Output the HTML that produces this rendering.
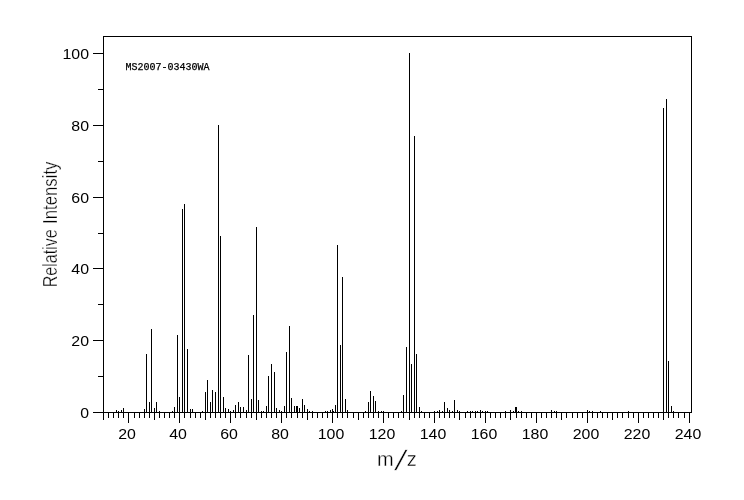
<!DOCTYPE html>
<html><head><meta charset="utf-8"><title>Mass spectrum MS2007-03430WA</title>
<style>
html,body{margin:0;padding:0;background:#fff;}
svg{display:block;}
text{font-family:"Liberation Sans",Arial,sans-serif;fill:#000;}
text.thin{stroke:#fff;stroke-width:0.35px;}
text.t14{stroke:none;}
text.mono{font-family:"Liberation Mono","DejaVu Sans Mono",monospace;stroke:#000;stroke-width:0.25px;}
</style></head>
<body>
<svg width="744" height="500" viewBox="0 0 744 500">
<rect x="0" y="0" width="744" height="500" fill="#fff"/>
<g fill="#000" shape-rendering="crispEdges">
<rect x="103" y="36" width="589" height="1"/>
<rect x="103" y="36" width="1" height="377"/>
<rect x="691" y="36" width="1" height="377"/>
<rect x="93" y="412" width="599" height="1"/>
<rect x="93" y="412" width="10" height="1"/>
<rect x="98" y="376" width="5" height="1"/>
<rect x="93" y="340" width="10" height="1"/>
<rect x="98" y="304" width="5" height="1"/>
<rect x="93" y="268" width="10" height="1"/>
<rect x="98" y="233" width="5" height="1"/>
<rect x="93" y="197" width="10" height="1"/>
<rect x="98" y="161" width="5" height="1"/>
<rect x="93" y="125" width="10" height="1"/>
<rect x="98" y="89" width="5" height="1"/>
<rect x="93" y="53" width="10" height="1"/>
<rect x="103" y="413" width="1" height="7"/>
<rect x="108" y="413" width="1" height="5"/>
<rect x="113" y="413" width="1" height="5"/>
<rect x="118" y="413" width="1" height="5"/>
<rect x="123" y="413" width="1" height="5"/>
<rect x="128" y="413" width="1" height="10"/>
<rect x="134" y="413" width="1" height="5"/>
<rect x="139" y="413" width="1" height="5"/>
<rect x="144" y="413" width="1" height="5"/>
<rect x="149" y="413" width="1" height="5"/>
<rect x="154" y="413" width="1" height="7"/>
<rect x="159" y="413" width="1" height="5"/>
<rect x="164" y="413" width="1" height="5"/>
<rect x="169" y="413" width="1" height="5"/>
<rect x="174" y="413" width="1" height="5"/>
<rect x="179" y="413" width="1" height="10"/>
<rect x="184" y="413" width="1" height="5"/>
<rect x="190" y="413" width="1" height="5"/>
<rect x="195" y="413" width="1" height="5"/>
<rect x="200" y="413" width="1" height="5"/>
<rect x="205" y="413" width="1" height="7"/>
<rect x="210" y="413" width="1" height="5"/>
<rect x="215" y="413" width="1" height="5"/>
<rect x="220" y="413" width="1" height="5"/>
<rect x="225" y="413" width="1" height="5"/>
<rect x="230" y="413" width="1" height="10"/>
<rect x="235" y="413" width="1" height="5"/>
<rect x="240" y="413" width="1" height="5"/>
<rect x="246" y="413" width="1" height="5"/>
<rect x="251" y="413" width="1" height="5"/>
<rect x="256" y="413" width="1" height="7"/>
<rect x="261" y="413" width="1" height="5"/>
<rect x="266" y="413" width="1" height="5"/>
<rect x="271" y="413" width="1" height="5"/>
<rect x="276" y="413" width="1" height="5"/>
<rect x="281" y="413" width="1" height="10"/>
<rect x="286" y="413" width="1" height="5"/>
<rect x="291" y="413" width="1" height="5"/>
<rect x="297" y="413" width="1" height="5"/>
<rect x="302" y="413" width="1" height="5"/>
<rect x="307" y="413" width="1" height="7"/>
<rect x="312" y="413" width="1" height="5"/>
<rect x="317" y="413" width="1" height="5"/>
<rect x="322" y="413" width="1" height="5"/>
<rect x="327" y="413" width="1" height="5"/>
<rect x="332" y="413" width="1" height="10"/>
<rect x="337" y="413" width="1" height="5"/>
<rect x="342" y="413" width="1" height="5"/>
<rect x="347" y="413" width="1" height="5"/>
<rect x="353" y="413" width="1" height="5"/>
<rect x="358" y="413" width="1" height="7"/>
<rect x="363" y="413" width="1" height="5"/>
<rect x="368" y="413" width="1" height="5"/>
<rect x="373" y="413" width="1" height="5"/>
<rect x="378" y="413" width="1" height="5"/>
<rect x="383" y="413" width="1" height="10"/>
<rect x="388" y="413" width="1" height="5"/>
<rect x="393" y="413" width="1" height="5"/>
<rect x="398" y="413" width="1" height="5"/>
<rect x="403" y="413" width="1" height="5"/>
<rect x="409" y="413" width="1" height="7"/>
<rect x="414" y="413" width="1" height="5"/>
<rect x="419" y="413" width="1" height="5"/>
<rect x="424" y="413" width="1" height="5"/>
<rect x="429" y="413" width="1" height="5"/>
<rect x="434" y="413" width="1" height="10"/>
<rect x="439" y="413" width="1" height="5"/>
<rect x="444" y="413" width="1" height="5"/>
<rect x="449" y="413" width="1" height="5"/>
<rect x="454" y="413" width="1" height="5"/>
<rect x="459" y="413" width="1" height="7"/>
<rect x="465" y="413" width="1" height="5"/>
<rect x="470" y="413" width="1" height="5"/>
<rect x="475" y="413" width="1" height="5"/>
<rect x="480" y="413" width="1" height="5"/>
<rect x="485" y="413" width="1" height="10"/>
<rect x="490" y="413" width="1" height="5"/>
<rect x="495" y="413" width="1" height="5"/>
<rect x="500" y="413" width="1" height="5"/>
<rect x="505" y="413" width="1" height="5"/>
<rect x="510" y="413" width="1" height="7"/>
<rect x="516" y="413" width="1" height="5"/>
<rect x="521" y="413" width="1" height="5"/>
<rect x="526" y="413" width="1" height="5"/>
<rect x="531" y="413" width="1" height="5"/>
<rect x="536" y="413" width="1" height="10"/>
<rect x="541" y="413" width="1" height="5"/>
<rect x="546" y="413" width="1" height="5"/>
<rect x="551" y="413" width="1" height="5"/>
<rect x="556" y="413" width="1" height="5"/>
<rect x="561" y="413" width="1" height="7"/>
<rect x="566" y="413" width="1" height="5"/>
<rect x="572" y="413" width="1" height="5"/>
<rect x="577" y="413" width="1" height="5"/>
<rect x="582" y="413" width="1" height="5"/>
<rect x="587" y="413" width="1" height="10"/>
<rect x="592" y="413" width="1" height="5"/>
<rect x="597" y="413" width="1" height="5"/>
<rect x="602" y="413" width="1" height="5"/>
<rect x="607" y="413" width="1" height="5"/>
<rect x="612" y="413" width="1" height="7"/>
<rect x="617" y="413" width="1" height="5"/>
<rect x="622" y="413" width="1" height="5"/>
<rect x="628" y="413" width="1" height="5"/>
<rect x="633" y="413" width="1" height="5"/>
<rect x="638" y="413" width="1" height="10"/>
<rect x="643" y="413" width="1" height="5"/>
<rect x="648" y="413" width="1" height="5"/>
<rect x="653" y="413" width="1" height="5"/>
<rect x="658" y="413" width="1" height="5"/>
<rect x="663" y="413" width="1" height="7"/>
<rect x="668" y="413" width="1" height="5"/>
<rect x="673" y="413" width="1" height="5"/>
<rect x="678" y="413" width="1" height="5"/>
<rect x="684" y="413" width="1" height="5"/>
<rect x="689" y="413" width="1" height="10"/>
<rect x="116" y="410" width="1" height="2"/>
<rect x="118" y="411" width="1" height="1"/>
<rect x="121" y="410" width="1" height="2"/>
<rect x="123" y="408" width="1" height="4"/>
<rect x="144" y="409" width="1" height="3"/>
<rect x="146" y="354" width="1" height="58"/>
<rect x="149" y="402" width="1" height="10"/>
<rect x="151" y="329" width="1" height="83"/>
<rect x="154" y="408" width="1" height="4"/>
<rect x="156" y="402" width="1" height="10"/>
<rect x="159" y="411" width="1" height="1"/>
<rect x="172" y="411" width="1" height="1"/>
<rect x="174" y="407" width="1" height="5"/>
<rect x="177" y="335" width="1" height="77"/>
<rect x="179" y="397" width="1" height="15"/>
<rect x="182" y="209" width="1" height="203"/>
<rect x="184" y="204" width="1" height="208"/>
<rect x="187" y="349" width="1" height="63"/>
<rect x="190" y="409" width="1" height="3"/>
<rect x="192" y="409" width="1" height="3"/>
<rect x="202" y="411" width="1" height="1"/>
<rect x="205" y="392" width="1" height="20"/>
<rect x="207" y="380" width="1" height="32"/>
<rect x="210" y="402" width="1" height="10"/>
<rect x="212" y="390" width="1" height="22"/>
<rect x="215" y="392" width="1" height="20"/>
<rect x="218" y="125" width="1" height="287"/>
<rect x="220" y="236" width="1" height="176"/>
<rect x="223" y="397" width="1" height="15"/>
<rect x="225" y="408" width="1" height="4"/>
<rect x="228" y="409" width="1" height="3"/>
<rect x="230" y="411" width="1" height="1"/>
<rect x="233" y="410" width="1" height="2"/>
<rect x="235" y="405" width="1" height="7"/>
<rect x="238" y="402" width="1" height="10"/>
<rect x="240" y="407" width="1" height="5"/>
<rect x="243" y="407" width="1" height="5"/>
<rect x="246" y="410" width="1" height="2"/>
<rect x="248" y="355" width="1" height="57"/>
<rect x="251" y="399" width="1" height="13"/>
<rect x="253" y="315" width="1" height="97"/>
<rect x="256" y="227" width="1" height="185"/>
<rect x="258" y="400" width="1" height="12"/>
<rect x="261" y="411" width="1" height="1"/>
<rect x="263" y="411" width="1" height="1"/>
<rect x="266" y="406" width="1" height="6"/>
<rect x="268" y="376" width="1" height="36"/>
<rect x="271" y="364" width="1" height="48"/>
<rect x="274" y="372" width="1" height="40"/>
<rect x="276" y="408" width="1" height="4"/>
<rect x="279" y="410" width="1" height="2"/>
<rect x="281" y="411" width="1" height="1"/>
<rect x="284" y="406" width="1" height="6"/>
<rect x="286" y="352" width="1" height="60"/>
<rect x="289" y="326" width="1" height="86"/>
<rect x="291" y="398" width="1" height="14"/>
<rect x="294" y="406" width="1" height="6"/>
<rect x="297" y="406" width="1" height="6"/>
<rect x="299" y="408" width="1" height="4"/>
<rect x="302" y="399" width="1" height="13"/>
<rect x="304" y="405" width="1" height="7"/>
<rect x="307" y="409" width="1" height="3"/>
<rect x="309" y="411" width="1" height="1"/>
<rect x="312" y="411" width="1" height="1"/>
<rect x="325" y="411" width="1" height="1"/>
<rect x="327" y="411" width="1" height="1"/>
<rect x="330" y="410" width="1" height="2"/>
<rect x="332" y="409" width="1" height="3"/>
<rect x="335" y="405" width="1" height="7"/>
<rect x="337" y="245" width="1" height="167"/>
<rect x="340" y="345" width="1" height="67"/>
<rect x="342" y="277" width="1" height="135"/>
<rect x="345" y="399" width="1" height="13"/>
<rect x="347" y="410" width="1" height="2"/>
<rect x="365" y="411" width="1" height="1"/>
<rect x="368" y="402" width="1" height="10"/>
<rect x="370" y="391" width="1" height="21"/>
<rect x="373" y="396" width="1" height="16"/>
<rect x="375" y="401" width="1" height="11"/>
<rect x="378" y="411" width="1" height="1"/>
<rect x="381" y="411" width="1" height="1"/>
<rect x="383" y="411" width="1" height="1"/>
<rect x="401" y="411" width="1" height="1"/>
<rect x="403" y="395" width="1" height="17"/>
<rect x="406" y="347" width="1" height="65"/>
<rect x="409" y="53" width="1" height="359"/>
<rect x="411" y="364" width="1" height="48"/>
<rect x="414" y="136" width="1" height="276"/>
<rect x="416" y="354" width="1" height="58"/>
<rect x="419" y="407" width="1" height="5"/>
<rect x="421" y="411" width="1" height="1"/>
<rect x="434" y="411" width="1" height="1"/>
<rect x="437" y="411" width="1" height="1"/>
<rect x="439" y="410" width="1" height="2"/>
<rect x="442" y="411" width="1" height="1"/>
<rect x="444" y="402" width="1" height="10"/>
<rect x="447" y="408" width="1" height="4"/>
<rect x="449" y="410" width="1" height="2"/>
<rect x="452" y="411" width="1" height="1"/>
<rect x="454" y="400" width="1" height="12"/>
<rect x="457" y="410" width="1" height="2"/>
<rect x="459" y="411" width="1" height="1"/>
<rect x="467" y="411" width="1" height="1"/>
<rect x="470" y="411" width="1" height="1"/>
<rect x="472" y="411" width="1" height="1"/>
<rect x="475" y="411" width="1" height="1"/>
<rect x="477" y="411" width="1" height="1"/>
<rect x="480" y="410" width="1" height="2"/>
<rect x="482" y="411" width="1" height="1"/>
<rect x="485" y="411" width="1" height="1"/>
<rect x="487" y="411" width="1" height="1"/>
<rect x="505" y="411" width="1" height="1"/>
<rect x="510" y="410" width="1" height="2"/>
<rect x="513" y="411" width="1" height="1"/>
<rect x="516" y="407" width="1" height="5"/>
<rect x="518" y="411" width="1" height="1"/>
<rect x="521" y="411" width="1" height="1"/>
<rect x="551" y="410" width="1" height="2"/>
<rect x="554" y="411" width="1" height="1"/>
<rect x="556" y="411" width="1" height="1"/>
<rect x="587" y="410" width="1" height="2"/>
<rect x="589" y="411" width="1" height="1"/>
<rect x="592" y="411" width="1" height="1"/>
<rect x="600" y="411" width="1" height="1"/>
<rect x="628" y="411" width="1" height="1"/>
<rect x="663" y="108" width="1" height="304"/>
<rect x="666" y="99" width="1" height="313"/>
<rect x="668" y="361" width="1" height="51"/>
<rect x="671" y="406" width="1" height="6"/>
<rect x="673" y="411" width="1" height="1"/>
<rect x="296" y="406" width="1" height="6"/>
<rect x="515" y="407" width="1" height="5"/>
<rect x="333" y="411" width="1" height="1"/>
</g>
<g>
<text class="t14" x="89" y="418" font-size="14" text-anchor="end" textLength="8.8" lengthAdjust="spacingAndGlyphs">0</text>
<text class="t14" x="89" y="346" font-size="14" text-anchor="end" textLength="17.7" lengthAdjust="spacingAndGlyphs">20</text>
<text class="t14" x="89" y="274" font-size="14" text-anchor="end" textLength="17.7" lengthAdjust="spacingAndGlyphs">40</text>
<text class="t14" x="89" y="203" font-size="14" text-anchor="end" textLength="17.7" lengthAdjust="spacingAndGlyphs">60</text>
<text class="t14" x="89" y="131" font-size="14" text-anchor="end" textLength="17.7" lengthAdjust="spacingAndGlyphs">80</text>
<text class="t14" x="89" y="59" font-size="14" text-anchor="end" textLength="26.5" lengthAdjust="spacingAndGlyphs">100</text>
<text class="t14" x="127" y="439" font-size="14" text-anchor="middle" textLength="17.7" lengthAdjust="spacingAndGlyphs">20</text>
<text class="t14" x="178" y="439" font-size="14" text-anchor="middle" textLength="17.7" lengthAdjust="spacingAndGlyphs">40</text>
<text class="t14" x="229" y="439" font-size="14" text-anchor="middle" textLength="17.7" lengthAdjust="spacingAndGlyphs">60</text>
<text class="t14" x="280" y="439" font-size="14" text-anchor="middle" textLength="17.7" lengthAdjust="spacingAndGlyphs">80</text>
<text class="t14" x="331" y="439" font-size="14" text-anchor="middle" textLength="26.5" lengthAdjust="spacingAndGlyphs">100</text>
<text class="t14" x="382" y="439" font-size="14" text-anchor="middle" textLength="26.5" lengthAdjust="spacingAndGlyphs">120</text>
<text class="t14" x="433" y="439" font-size="14" text-anchor="middle" textLength="26.5" lengthAdjust="spacingAndGlyphs">140</text>
<text class="t14" x="484" y="439" font-size="14" text-anchor="middle" textLength="26.5" lengthAdjust="spacingAndGlyphs">160</text>
<text class="t14" x="535" y="439" font-size="14" text-anchor="middle" textLength="26.5" lengthAdjust="spacingAndGlyphs">180</text>
<text class="t14" x="586" y="439" font-size="14" text-anchor="middle" textLength="26.5" lengthAdjust="spacingAndGlyphs">200</text>
<text class="t14" x="637" y="439" font-size="14" text-anchor="middle" textLength="26.5" lengthAdjust="spacingAndGlyphs">220</text>
<text class="t14" x="688" y="439" font-size="14" text-anchor="middle" textLength="26.5" lengthAdjust="spacingAndGlyphs">240</text>
<text class="thin" y="466" font-size="20"><tspan x="377">m</tspan></text>
<text class="thin" transform="translate(394.3,469.8) skewX(-15)" font-size="28">/</text>
<text class="thin" y="466" font-size="20"><tspan x="406.8">z</tspan></text>
<text class="thin" transform="translate(57,287.3) rotate(-90)" font-size="19.5" textLength="58" lengthAdjust="spacingAndGlyphs">Relative</text>
<text class="thin" transform="translate(57,224) rotate(-90)" font-size="19.5" textLength="62.5" lengthAdjust="spacingAndGlyphs">Intensity</text>
<text x="125.6" y="70" font-size="10" class="mono">MS2007-03430WA</text>
</g>
</svg>
</body></html>
